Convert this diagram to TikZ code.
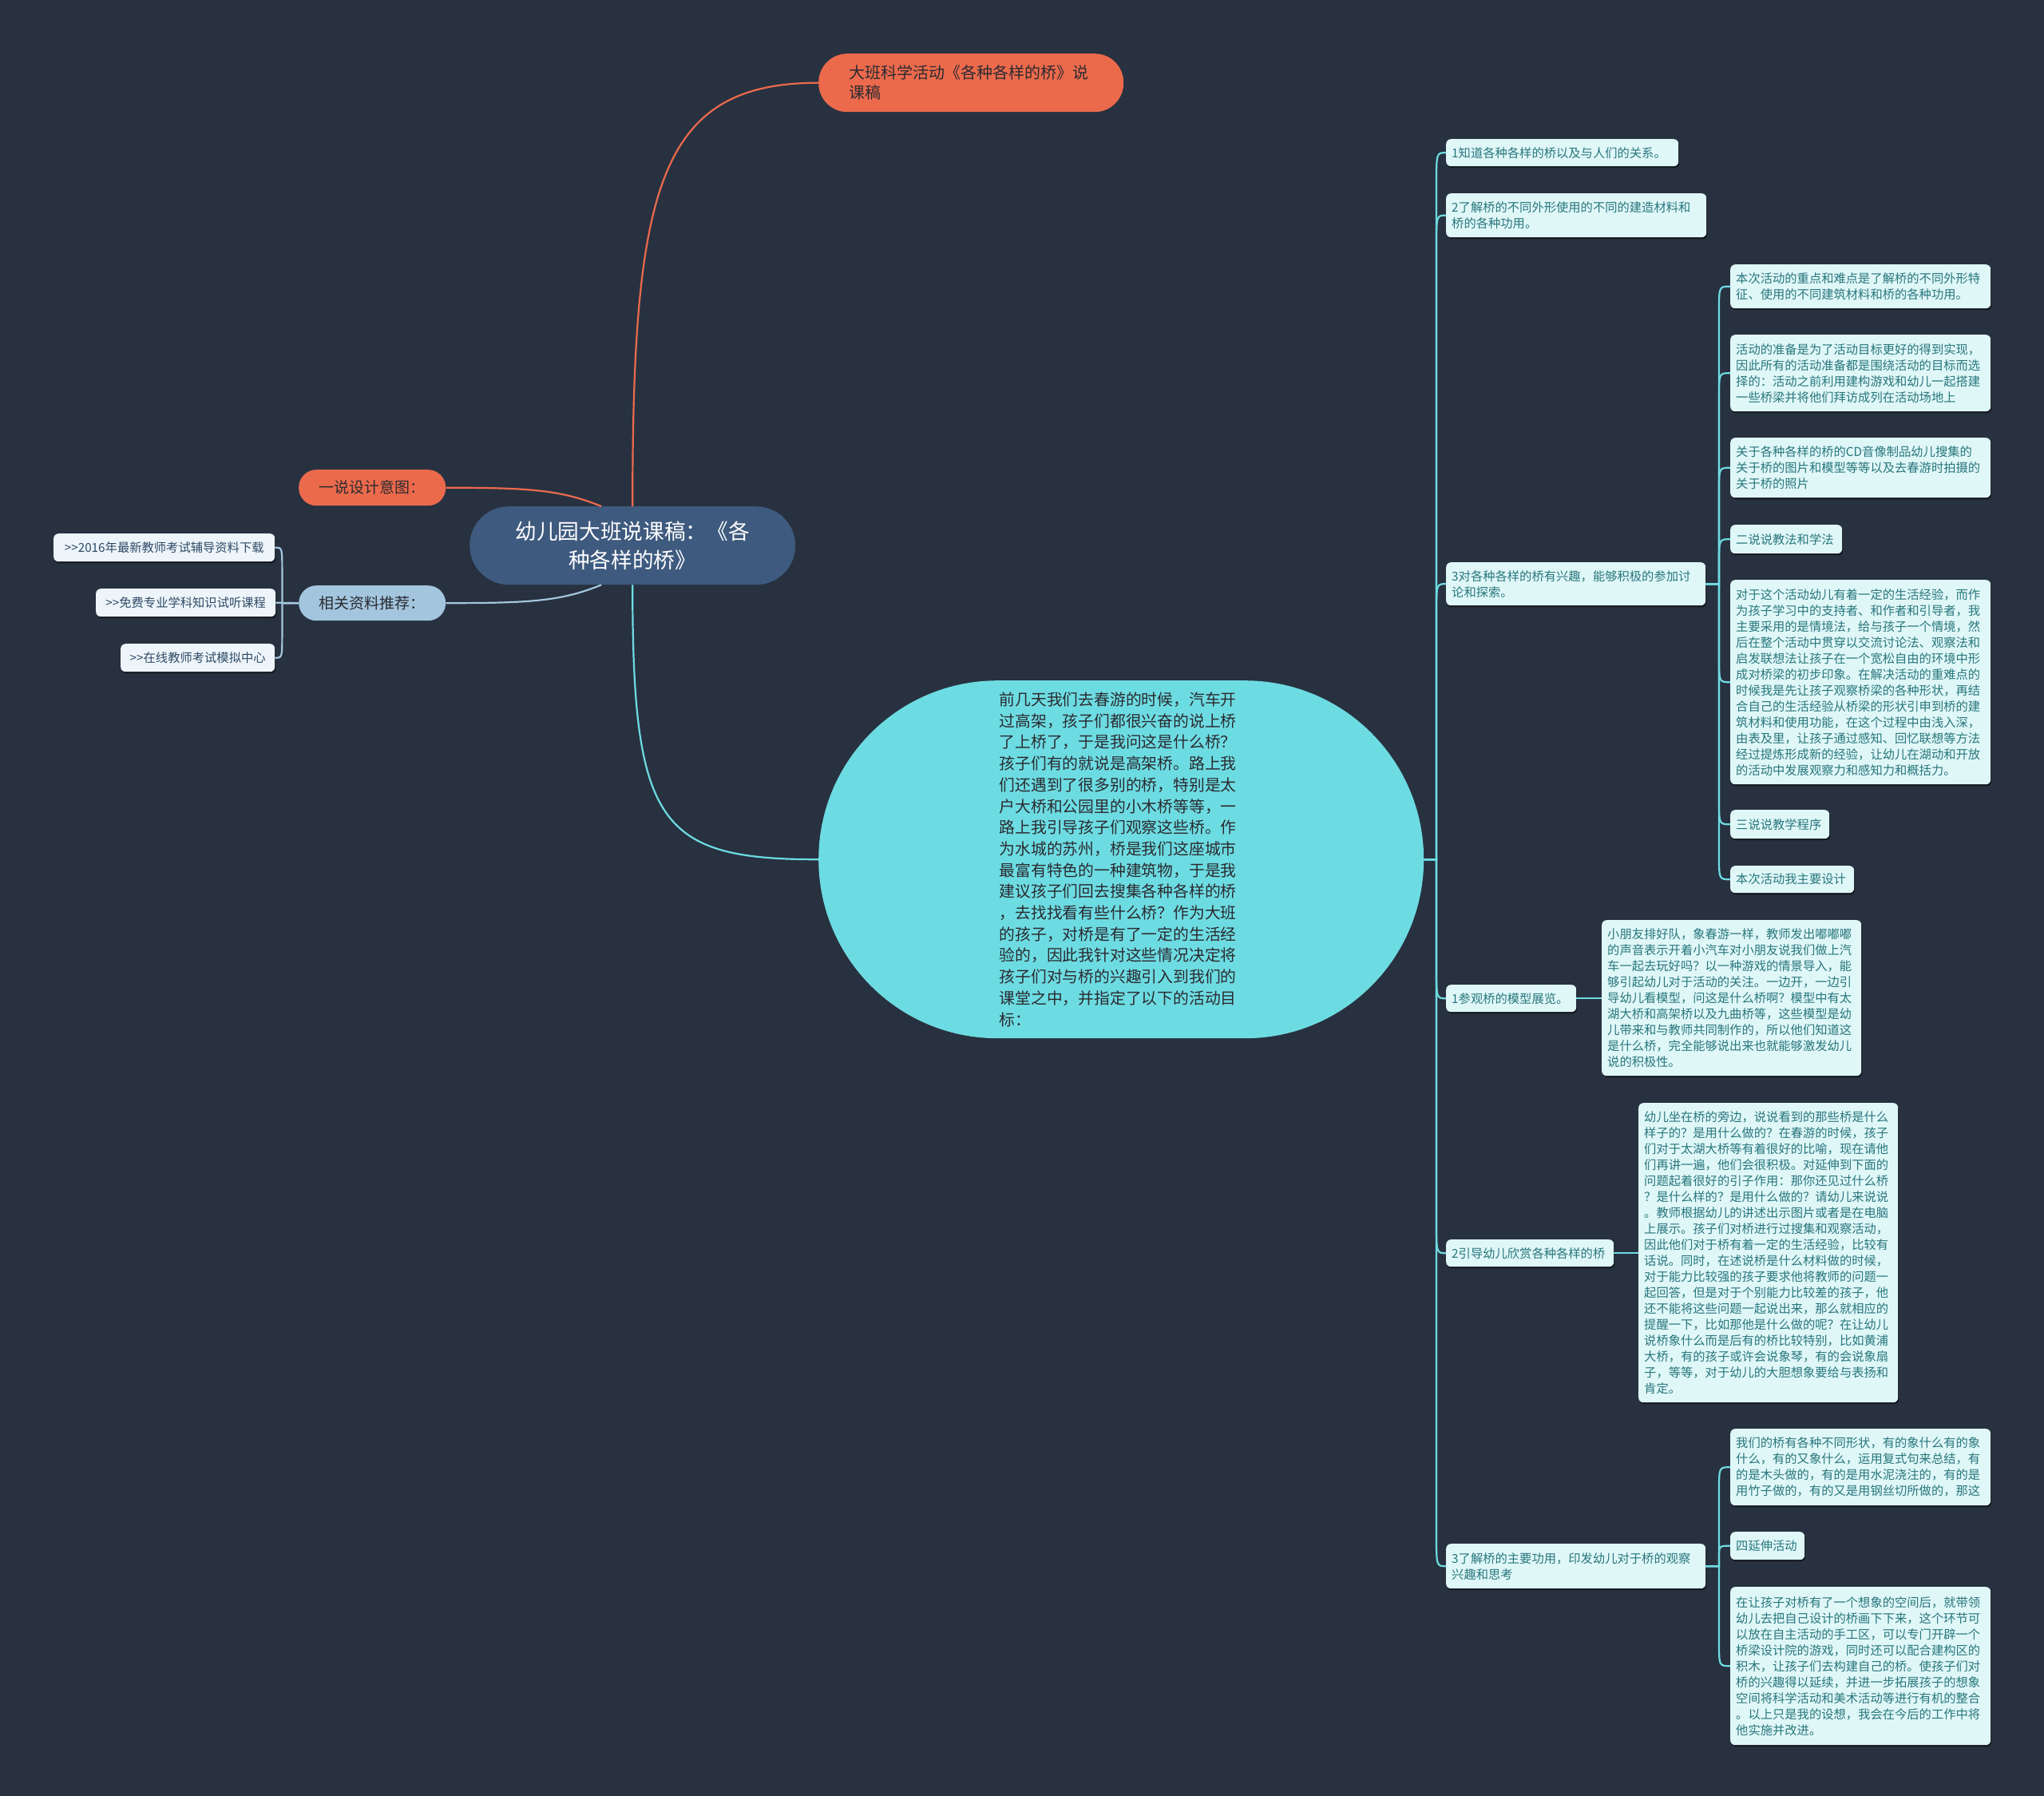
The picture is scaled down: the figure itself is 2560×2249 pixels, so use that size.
\documentclass[tikz,border=0pt]{standalone}
\usepackage{fontspec}
\setmainfont{Noto Sans CJK SC}
\usepackage{tikz}
\usetikzlibrary{calc,shadows}

\definecolor{bgdark}{HTML}{283140}
\definecolor{rootblue}{HTML}{3E5A7E}
\definecolor{orangered}{HTML}{EC6A4C}
\definecolor{paleblue}{HTML}{A3C6DE}
\definecolor{linkwhite}{HTML}{EEF5FA}
\definecolor{linknavy}{HTML}{2E4A66}
\definecolor{aqua}{HTML}{6DDCE2}
\definecolor{aquapale}{HTML}{E0F7F8}
\definecolor{tealtext}{HTML}{27767C}
\definecolor{darktext}{HTML}{2A2A30}

\begin{document}
\begin{tikzpicture}[x=1pt, y=-1pt,
    pill/.style={anchor=north west, align=center, inner sep=0pt},
    leaf/.style={anchor=north west, fill=aquapale, text=tealtext, rounded corners=6pt, align=left, inner xsep=7pt, inner ysep=3pt, font=\fontsize{15.3}{20}\selectfont, drop shadow={shadow xshift=1pt, shadow yshift=-2pt, fill=black, opacity=0.55}},
    link/.style={anchor=north west, fill=linkwhite, text=linknavy, rounded corners=6pt, align=center, inner xsep=6pt, inner ysep=3pt, font=\fontsize{15.3}{20}\selectfont, drop shadow={shadow xshift=1pt, shadow yshift=-2pt, fill=black, opacity=0.55}},
    aqualine/.style={draw=aqua, line width=2.2pt},
    orangeline/.style={draw=orangered, line width=2.2pt},
    paleline/.style={draw=paleblue, line width=2.2pt}]
    \fill[bgdark] (0,0) rectangle (2560,2249);

    \node[pill, fill=rootblue, text=white, minimum width=408pt, minimum height=98pt, rounded corners=49pt, text width=330pt, font=\fontsize{26.7}{36}\selectfont] (root) at (588,634) {幼儿园大班说课稿：《各\\种各样的桥》};
    \node[pill, fill=orangered, text=darktext, minimum width=382pt, minimum height=73pt, rounded corners=36pt, text width=306pt, align=left, font=\fontsize{20}{25}\selectfont] (ttl) at (1025,67) {大班科学活动《各种各样的桥》说\\课稿};
    \node[pill, fill=orangered, text=darktext, minimum width=184pt, minimum height=45pt, rounded corners=22pt, font=\fontsize{19}{24}\selectfont] (yi) at (374,588) {一说设计意图：};
    \node[pill, fill=paleblue, text=darktext, minimum width=184pt, minimum height=44pt, rounded corners=22pt, font=\fontsize{19}{24}\selectfont] (rel) at (374,733) {相关资料推荐：};

    \node[link, text width=265pt, minimum height=35pt] (l1) at (67,668) {>{}>2016年最新教师考试辅导资料下载};
    \node[link, text width=213pt, minimum height=35pt] (l2) at (120,737) {>{}>免费专业学科知识试听课程};
    \node[link, text width=181pt, minimum height=35pt] (l3) at (151,806) {>{}>在线教师考试模拟中心};

    \node[pill, fill=aqua, text=darktext, minimum width=758pt, minimum height=448pt, rounded corners=224pt, text width=305pt, align=left, font=\fontsize{19.8}{26.7}\selectfont] (cen) at (1025,852) {前几天我们去春游的时候，汽车开\\过高架，孩子们都很兴奋的说上桥\\了上桥了，于是我问这是什么桥？\\孩子们有的就说是高架桥。路上我\\们还遇到了很多别的桥，特别是太\\户大桥和公园里的小木桥等等，一\\路上我引导孩子们观察这些桥。作\\为水城的苏州，桥是我们这座城市\\最富有特色的一种建筑物，于是我\\建议孩子们回去搜集各种各样的桥\\，去找找看有些什么桥？作为大班\\的孩子，对桥是有了一定的生活经\\验的，因此我针对这些情况决定将\\孩子们对与桥的兴趣引入到我们的\\课堂之中，并指定了以下的活动目\\标：};

    \node[leaf, text width=277pt, minimum height=34pt] (g1) at (1811,174) {1知道各种各样的桥以及与人们的关系。};
    \node[leaf, text width=312pt, minimum height=55pt] (g2) at (1811,242) {2了解桥的不同外形使用的不同的建造材料和\\桥的各种功用。};
    \node[leaf, text width=311pt, minimum height=54pt] (g3) at (1811,704) {3对各种各样的桥有兴趣，能够积极的参加讨\\论和探索。};
    \node[leaf, text width=149pt, minimum height=34pt] (p1) at (1811,1233) {1参观桥的模型展览。};
    \node[leaf, text width=196pt, minimum height=34pt] (p2) at (1811,1552) {2引导幼儿欣赏各种各样的桥};
    \node[leaf, text width=311pt, minimum height=56pt] (p3) at (1811,1933) {3了解桥的主要功用，印发幼儿对于桥的观察\\兴趣和思考};

    \node[leaf, text width=312pt, minimum height=55pt] (m1) at (2167,331) {本次活动的重点和难点是了解桥的不同外形特\\征、使用的不同建筑材料和桥的各种功用。};
    \node[leaf, text width=312pt, minimum height=96pt] (m2) at (2167,419) {活动的准备是为了活动目标更好的得到实现，\\因此所有的活动准备都是围绕活动的目标而选\\择的：活动之前利用建构游戏和幼儿一起搭建\\一些桥梁并将他们拜访成列在活动场地上};
    \node[leaf, text width=312pt, minimum height=75pt] (m3) at (2167,548) {关于各种各样的桥的CD音像制品幼儿搜集的\\关于桥的图片和模型等等以及去春游时拍摄的\\关于桥的照片};
    \node[leaf, text width=126pt, minimum height=36pt] (m4) at (2167,657) {二说说教法和学法};
    \node[leaf, text width=312pt, minimum height=256pt] (m5) at (2167,726) {对于这个活动幼儿有着一定的生活经验，而作\\为孩子学习中的支持者、和作者和引导者，我\\主要采用的是情境法，给与孩子一个情境，然\\后在整个活动中贯穿以交流讨论法、观察法和\\启发联想法让孩子在一个宽松自由的环境中形\\成对桥梁的初步印象。在解决活动的重难点的\\时候我是先让孩子观察桥梁的各种形状，再结\\合自己的生活经验从桥梁的形状引申到桥的建\\筑材料和使用功能，在这个过程中由浅入深，\\由表及里，让孩子通过感知、回忆联想等方法\\经过提炼形成新的经验，让幼儿在湖动和开放\\的活动中发展观察力和感知力和概括力。};
    \node[leaf, text width=110pt, minimum height=36pt] (m6) at (2167,1014) {三说说教学程序};
    \node[leaf, text width=141pt, minimum height=34pt] (m7) at (2167,1084) {本次活动我主要设计};

    \node[leaf, text width=311pt, minimum height=195pt] (p1a) at (2006,1152) {小朋友排好队，象春游一样，教师发出嘟嘟嘟\\的声音表示开着小汽车对小朋友说我们做上汽\\车一起去玩好吗？以一种游戏的情景导入，能\\够引起幼儿对于活动的关注。一边开，一边引\\导幼儿看模型，问这是什么桥啊？模型中有太\\湖大桥和高架桥以及九曲桥等，这些模型是幼\\儿带来和与教师共同制作的，所以他们知道这\\是什么桥，完全能够说出来也就能够激发幼儿\\说的积极性。};
    \node[leaf, text width=311pt, minimum height=375pt] (p2a) at (2052,1381) {幼儿坐在桥的旁边，说说看到的那些桥是什么\\样子的？是用什么做的？在春游的时候，孩子\\们对于太湖大桥等有着很好的比喻，现在请他\\们再讲一遍，他们会很积极。对延伸到下面的\\问题起着很好的引子作用：那你还见过什么桥\\？是什么样的？是用什么做的？请幼儿来说说\\。教师根据幼儿的讲述出示图片或者是在电脑\\上展示。孩子们对桥进行过搜集和观察活动，\\因此他们对于桥有着一定的生活经验，比较有\\话说。同时，在述说桥是什么材料做的时候，\\对于能力比较强的孩子要求他将教师的问题一\\起回答，但是对于个别能力比较差的孩子，他\\还不能将这些问题一起说出来，那么就相应的\\提醒一下，比如那他是什么做的呢？在让幼儿\\说桥象什么而是后有的桥比较特别，比如黄浦\\大桥，有的孩子或许会说象琴，有的会说象扇\\子，等等，对于幼儿的大胆想象要给与表扬和\\肯定。};

    \node[leaf, text width=312pt, minimum height=96pt] (p3a) at (2167,1789) {我们的桥有各种不同形状，有的象什么有的象\\什么，有的又象什么，运用复式句来总结，有\\的是木头做的，有的是用水泥浇注的，有的是\\用竹子做的，有的又是用钢丝切所做的，那这};
    \node[leaf, text width=79pt, minimum height=35pt] (p3b) at (2167,1918) {四延伸活动};
    \node[leaf, text width=312pt, minimum height=198pt] (p3c) at (2167,1987) {在让孩子对桥有了一个想象的空间后，就带领\\幼儿去把自己设计的桥画下下来，这个环节可\\以放在自主活动的手工区，可以专门开辟一个\\桥梁设计院的游戏，同时还可以配合建构区的\\积木，让孩子们去构建自己的桥。使孩子们对\\桥的兴趣得以延续，并进一步拓展孩子的想象\\空间将科学活动和美术活动等进行有机的整合\\。以上只是我的设想，我会在今后的工作中将\\他实施并改进。};

    \draw[orangeline] (root.north) .. controls +(0,-400) and +(-200,0) .. (ttl.west);
    \draw[orangeline] (yi.east) .. controls +(110,0) and +(-50,-20) .. ($(root.north)+(-39,0)$);
    \draw[paleline] (rel.east) .. controls +(110,0) and +(-50,20) .. ($(root.south)+(-39,0)$);
    \draw[aqualine] (root.south) .. controls +(0,300) and +(-200,0) .. (cen.west);

    \draw[paleline] (rel.west) -| ($(l1.east)+(9,30)$) .. controls ($(l1.east)+(9,0)$) .. (l1.east);
    \draw[paleline] (rel.west) -- (l2.east);
    \draw[paleline] (rel.west) -| ($(l3.east)+(9,-30)$) .. controls ($(l3.east)+(9,0)$) .. (l3.east);

    \foreach \n in {g1,g2,g3}
    \draw[aqualine] (cen.east) -| ($(\n.west)+(-12,40)$) .. controls ($(\n.west)+(-12,0)$) .. (\n.west);
    \foreach \n in {p1,p2,p3}
    \draw[aqualine] (cen.east) -| ($(\n.west)+(-12,-40)$) .. controls ($(\n.west)+(-12,0)$) .. (\n.west);

    \foreach \n in {m1,m2,m3,m4}
    \draw[aqualine] (g3.east) -| ($(\n.west)+(-14,30)$) .. controls ($(\n.west)+(-14,0)$) .. (\n.west);
    \foreach \n in {m5,m6,m7}
    \draw[aqualine] (g3.east) -| ($(\n.west)+(-14,-30)$) .. controls ($(\n.west)+(-14,0)$) .. (\n.west);

    \draw[aqualine] (p1.east) -- (p1.east -| p1a.west);
    \draw[aqualine] (p2.east) -- (p2.east -| p2a.west);
    \draw[aqualine] (p3.east) -| ($(p3a.west)+(-14,30)$) .. controls ($(p3a.west)+(-14,0)$) .. (p3a.west);
    \draw[aqualine] (p3.east) -| ($(p3b.west)+(-14,14)$) .. controls ($(p3b.west)+(-14,0)$) .. (p3b.west);
    \draw[aqualine] (p3.east) -| ($(p3c.west)+(-14,-30)$) .. controls ($(p3c.west)+(-14,0)$) .. (p3c.west);
\end{tikzpicture}
\end{document}
